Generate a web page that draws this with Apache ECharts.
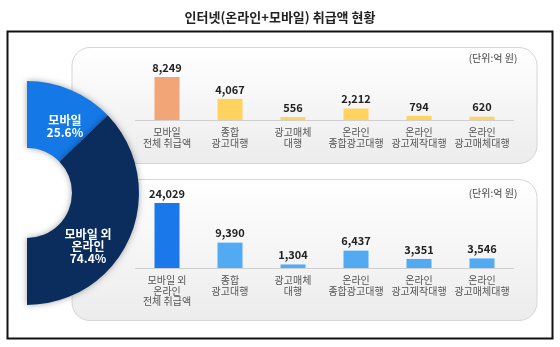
<!DOCTYPE html>
<html><head><meta charset="utf-8">
<script src="https://cdn.jsdelivr.net/npm/echarts@6/dist/echarts.min.js"></script>
<style>html,body{margin:0;padding:0;background:#fff}#c{width:560px;height:347px}</style>
</head><body><div id="c"></div>
<script>
var titleText = '인터넷(온라인+모바일) 취급액 현황';
var unitText = '(단위:억 원)';
var shareNames = ['모바일', '모바일 외\n온라인'];
var shareValues = [25.6, 74.4];
var mobileCats = ['모바일\n전체 취급액', '종합\n광고대행', '광고매체\n대행', '온라인\n종합광고대행', '온라인\n광고제작대행', '온라인\n광고매체대행'];
var mobileValues = [8249, 4067, 556, 2212, 794, 620];
var onlineCats = ['모바일 외\n온라인\n전체 취급액', '종합\n광고대행', '광고매체\n대행', '온라인\n종합광고대행', '온라인\n광고제작대행', '온라인\n광고매체대행'];
var onlineValues = [24029, 9390, 1304, 6437, 3351, 3546];

var FONT = '"Noto Sans CJK KR", "Noto Sans", sans-serif';
var chart = echarts.init(document.getElementById('c'));

function panel(y, h) {
  return {
    type: 'rect', z: 0,
    shape: { x: 72, y: y, width: 465, height: h, r: 18 },
    style: {
      fill: new echarts.graphic.LinearGradient(0, 0, 0, 1, [
        { offset: 0, color: '#ffffff' }, { offset: 1, color: '#ececec' }]),
      stroke: '#d6d6d6', lineWidth: 1
    }
  };
}
function fmt(v) { return v.toLocaleString('en-US'); }
function barSeries(idx, values, firstColor, otherColor) {
  return {
    type: 'bar', xAxisIndex: idx, yAxisIndex: idx, z: 5,
    barWidth: 25,
    data: values.map(function (v, i) {
      return { value: v, itemStyle: { color: i === 0 ? firstColor : otherColor } };
    }),
    label: {
      show: true, position: 'top', distance: 4,
      fontFamily: FONT, fontSize: 11, fontWeight: 'bold', color: '#222',
      formatter: function (p) { return fmt(p.value); }
    }
  };
}
function catAxis(idx, cats) {
  return {
    type: 'category', gridIndex: idx, data: cats,
    axisLine: { lineStyle: { color: '#cfcfcf', width: 1 } },
    axisTick: { show: false },
    axisLabel: { fontFamily: FONT, fontSize: 10, color: '#555', lineHeight: 10.5, margin: 7, interval: 0 }
  };
}

chart.setOption({
  animation: false,
  title: {
    text: titleText, left: 'center', top: 6,
    textStyle: { fontFamily: FONT, fontSize: 13, fontWeight: 'bold', color: '#222' }
  },
  graphic: [
    { type: 'rect', z: 0, shape: { x: 7.5, y: 31.5, width: 545, height: 307 },
      style: { fill: '#fff', stroke: '#111', lineWidth: 2 } },
    panel(47.5, 116),
    panel(179.5, 141),
    { type: 'text', z: 1, style: { text: unitText, x: 493, y: 58, align: 'center', verticalAlign: 'middle',
      font: '10px ' + FONT, fill: '#444' } },
    { type: 'text', z: 1, style: { text: unitText, x: 493, y: 193, align: 'center', verticalAlign: 'middle',
      font: '10px ' + FONT, fill: '#444' } }
  ],
  grid: [
    { left: 135.5, width: 378, top: 68, height: 52 },
    { left: 135.5, width: 378, top: 187, height: 81 }
  ],
  xAxis: [catAxis(0, mobileCats), catAxis(1, onlineCats)],
  yAxis: [
    { type: 'value', gridIndex: 0, min: 0, max: 10000, show: false, splitLine: { show: false } },
    { type: 'value', gridIndex: 1, min: 0, max: 30000, show: false, splitLine: { show: false } }
  ],
  series: [
    {
      type: 'pie', z: 10,
      center: [27, 193], radius: [45, 112],
      startAngle: 90, endAngle: -90, clockwise: true,
      silent: true,
      itemStyle: { shadowBlur: 6, shadowColor: 'rgba(0,0,0,0.35)', borderWidth: 0 },
      label: {
        show: true, position: 'inside', fontFamily: FONT, fontSize: 12, fontWeight: 'bold',
        color: '#fff', lineHeight: 12,
        formatter: function (p) { return p.name + '\n' + p.value.toFixed(1) + '%'; }
      },
      labelLayout: function (p) {
        return p.dataIndex === 0 ? { dx: 6, dy: 8 } : { dx: -14, dy: 22 };
      },
      labelLine: { show: false },
      data: shareNames.map(function (n, i) {
        return { name: n, value: shareValues[i], itemStyle: { color: i === 0 ? '#1478e6' : '#0b2d5e' } };
      })
    },
    barSeries(0, mobileValues, '#f2a677', '#ffd35e'),
    barSeries(1, onlineValues, '#1a78ea', '#52aaf3')
  ]
});
</script></body></html>
